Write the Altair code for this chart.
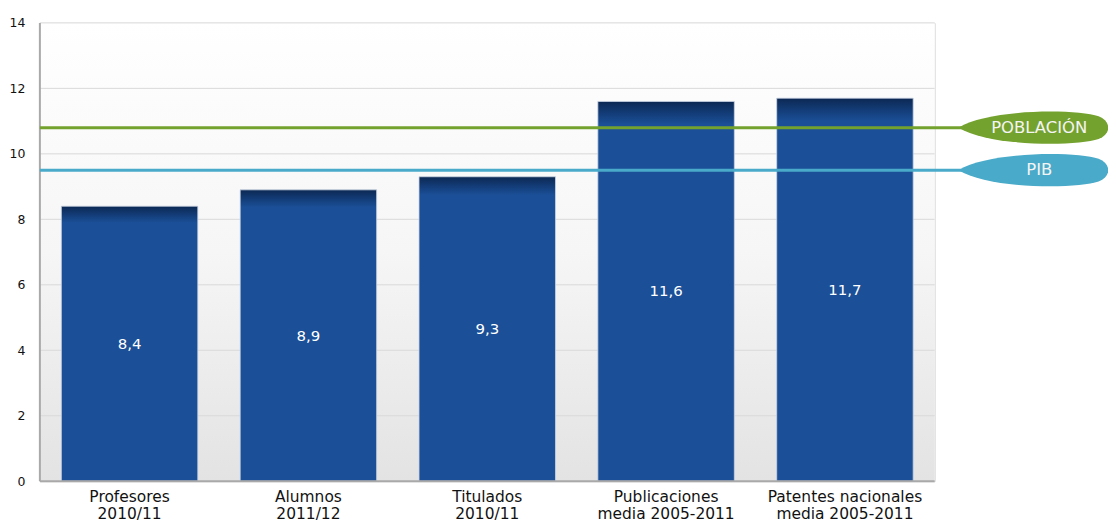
import altair as alt
import pandas as pd

# ---- data ----
names = ["Profesores", "Alumnos", "Titulados", "Publicaciones", "Patentes nacionales"]
periods = ["2010/11", "2011/12", "2010/11", "media 2005-2011", "media 2005-2011"]
values = [8.4, 8.9, 9.3, 11.6, 11.7]
ref_names = ["POBLACIÓN", "PIB"]
ref_values = [10.8, 9.5]
ref_colors = ["#74a22f", "#4aaac9"]
y_ticks = [0, 2, 4, 6, 8, 10, 12, 14]

W, H = 898, 460
FONT = "DejaVu Sans"
YDOM = alt.Scale(domain=[0, 14], nice=False)
Y_AXIS = alt.Axis(values=y_ticks, grid=False, ticks=False, domain=False,
                  labelPadding=15, title=None, labelFont=FONT,
                  labelFontSize=12.5, labelColor="#111111")

bars_df = pd.DataFrame({
    "cat": [f"{n}\n{p}" for n, p in zip(names, periods)],
    "value": values,
    "label": [f"{v:.1f}".replace(".", ",") for v in values],
})
ref_df = pd.DataFrame({"name": ref_names, "value": ref_values, "color": ref_colors})
grid_df = pd.DataFrame({"value": y_ticks[1:]})
one = pd.DataFrame({"k": [0]})

X_AXIS = alt.Axis(title=None, labelAngle=0, labelExpr="split(datum.label, '\\n')",
                  domain=False, ticks=False, labelPadding=8, labelFont=FONT,
                  labelFontSize=15.5, labelColor="#111111", labelLineHeight=17.5,
                  labelBaseline="top")
x_enc = alt.X("cat:N", sort=None,
              scale=alt.Scale(paddingInner=0.237, paddingOuter=0.12), axis=X_AXIS)

bg = alt.Chart(one).mark_rect(
    fill=alt.Gradient(gradient="linear",
                      stops=[alt.GradientStop(color="#ffffff", offset=0),
                             alt.GradientStop(color="#f6f6f6", offset=0.5),
                             alt.GradientStop(color="#e3e3e3", offset=1)],
                      x1=0, x2=0, y1=0, y2=1)
).encode(x=alt.value(0), x2=alt.value(W), y=alt.value(0), y2=alt.value(H))

grid = alt.Chart(grid_df).mark_rule(color="#d9d9d9", strokeWidth=1).encode(
    y=alt.Y("value:Q", scale=YDOM, axis=Y_AXIS), x=alt.value(0), x2=alt.value(W))

bars = alt.Chart(bars_df).mark_bar(
    fill=alt.Gradient(gradient="linear",
                      stops=[alt.GradientStop(color="#0c2853", offset=0),
                             alt.GradientStop(color="#143f7c", offset=0.035),
                             alt.GradientStop(color="#1b4f97", offset=0.06),
                             alt.GradientStop(color="#1b4f97", offset=1)],
                      x1=0, x2=0, y1=0, y2=1),
    stroke="#c9d3e3", strokeWidth=0.8,
).encode(x=x_enc, y=alt.Y("value:Q", scale=YDOM, axis=Y_AXIS))

text = alt.Chart(bars_df).transform_calculate(mid="datum.value / 2").mark_text(
    font=FONT, fontSize=15, color="white", baseline="middle", align="center"
).encode(x=alt.X("cat:N", sort=None, axis=X_AXIS),
         y=alt.Y("mid:Q", scale=YDOM, axis=Y_AXIS), text="label:N")

border_left = alt.Chart(one).mark_rule(color="#a9a9a9", strokeWidth=2).encode(
    x=alt.value(0), y=alt.value(0), y2=alt.value(H))
border_bottom = alt.Chart(one).mark_rule(color="#a9a9a9", strokeWidth=2).encode(
    x=alt.value(0), x2=alt.value(W), y=alt.value(H))

ref_rules = alt.Chart(ref_df).mark_rule(strokeWidth=3).encode(
    y=alt.Y("value:Q", scale=YDOM, axis=Y_AXIS),
    x=alt.value(0), x2=alt.value(W + 200),
    color=alt.Color("color:N", scale=None),
)

leaf = ("M -1 0 C -0.6 -0.25 0.55 -0.25 0.85 -0.15 C 1.02 -0.08 1.02 0.08 0.85 0.15 "
        "C 0.55 0.25 -0.6 0.25 -1 0 Z")
ellipses = alt.Chart(ref_df).mark_point(
    shape=leaf, size=152 * 152, filled=True, opacity=1, strokeWidth=0
).encode(
    y=alt.Y("value:Q", scale=YDOM, axis=Y_AXIS),
    x=alt.value(W + 100),
    color=alt.Color("color:N", scale=None),
)
ref_text = alt.Chart(ref_df).mark_text(
    font=FONT, fontSize=16.5, color="#f4f4f4",
    align="center", baseline="middle"
).encode(
    y=alt.Y("value:Q", scale=YDOM, axis=Y_AXIS),
    x=alt.value(W + 105),
    text="name:N",
)

chart = alt.layer(
    bg, grid, bars, text, border_left, border_bottom, ref_rules, ellipses, ref_text
).properties(
    width=W, height=H,
    autosize=alt.AutoSizeParams(type="none"),
    padding={"left": 32, "top": 14, "right": 174, "bottom": 42},
    background="white",
).configure_view(stroke="#d4d4d4", strokeWidth=1)

chart.save("out.html", embed_options={"renderer": "svg", "actions": False})
